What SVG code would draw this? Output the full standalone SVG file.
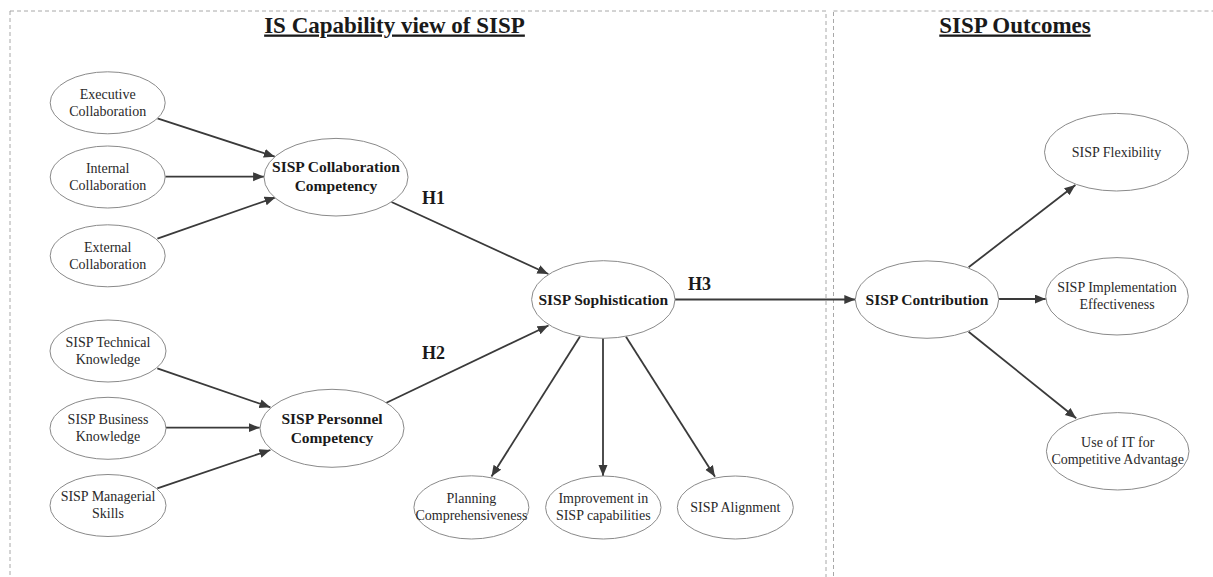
<svg xmlns="http://www.w3.org/2000/svg" width="1213" height="577" viewBox="0 0 1213 577">
<defs>
<marker id="arr" markerUnits="userSpaceOnUse" markerWidth="12" markerHeight="10" refX="11" refY="4.5" orient="auto">
<path d="M0,0 L11,4.5 L0,9 z" fill="#3a3a3a"/>
</marker>
<style>
.box{fill:none;stroke:#a8a8a8;stroke-width:1;stroke-dasharray:4 3}
.title{font-family:"Liberation Serif","Times New Roman",serif;font-size:23px;font-weight:bold;fill:#1a1a1a;text-anchor:middle;text-decoration:underline}
ellipse{fill:#fff;stroke:#8a8a8a;stroke-width:1}
.t{font-family:"Liberation Serif","Times New Roman",serif;font-size:14px;fill:#2a2a2a;text-anchor:middle}
.b{font-family:"Liberation Serif","Times New Roman",serif;font-size:15.5px;font-weight:bold;fill:#1a1a1a;text-anchor:middle}
.h{font-family:"Liberation Serif","Times New Roman",serif;font-size:18px;font-weight:bold;fill:#1a1a1a}
.c line{stroke:#3a3a3a;stroke-width:1.8;marker-end:url(#arr)}
</style>
</defs>
<rect width="1213" height="577" fill="#fff"/>
<g id="frames">
<rect class="box" x="10" y="11" width="816" height="600"/>
<rect class="box" x="833.5" y="11" width="400" height="600"/>
<text class="title" x="394.5" y="32.5">IS Capability view of SISP</text>
<text class="title" x="1015" y="32.5">SISP Outcomes</text>
</g>
<g class="c" id="connectors">
<line x1="157.4" y1="118.3" x2="274.8" y2="156.7"/>
<line x1="165.3" y1="176.7" x2="264.1" y2="176.7"/>
<line x1="157.4" y1="238.7" x2="275.6" y2="197.3"/>
<line x1="157.3" y1="368.3" x2="270.4" y2="407.3"/>
<line x1="165.2" y1="427.7" x2="259.7" y2="427.7"/>
<line x1="157.3" y1="488.3" x2="270.4" y2="450"/>
<line x1="391.5" y1="202" x2="548.3" y2="274"/>
<line x1="385.4" y1="403.3" x2="548.5" y2="325.5"/>
<line x1="580" y1="336.5" x2="491.5" y2="476.5"/>
<line x1="603" y1="338.3" x2="603" y2="476"/>
<line x1="626" y1="336.7" x2="715" y2="476.7"/>
<line x1="675" y1="299.5" x2="855.3" y2="299.5"/>
<line x1="968.6" y1="267.3" x2="1075.4" y2="185"/>
<line x1="999" y1="299" x2="1045.7" y2="299"/>
<line x1="968.6" y1="331.7" x2="1076.2" y2="418.3"/>
<text class="h" x="422" y="204">H1</text>
<text class="h" x="422" y="359">H2</text>
<text class="h" x="688" y="290">H3</text>
</g>
<g id="exec"><ellipse cx="107.7" cy="102.8" rx="57.5" ry="31"/><text class="t" x="107.7" y="98.5">Executive</text><text class="t" x="107.7" y="115.5">Collaboration</text></g>
<g id="internal"><ellipse cx="107.7" cy="177" rx="57.5" ry="31"/><text class="t" x="107.7" y="172.7">Internal</text><text class="t" x="107.7" y="189.7">Collaboration</text></g>
<g id="external"><ellipse cx="107.7" cy="255.8" rx="57.5" ry="31"/><text class="t" x="107.7" y="251.5">External</text><text class="t" x="107.7" y="268.5">Collaboration</text></g>
<g id="collab"><ellipse cx="336" cy="177.2" rx="72" ry="38.8"/><text class="b" x="336" y="172">SISP Collaboration</text><text class="b" x="336" y="190.5">Competency</text></g>
<g id="tech"><ellipse cx="108" cy="351" rx="58" ry="31"/><text class="t" x="108" y="346.7">SISP Technical</text><text class="t" x="108" y="363.7">Knowledge</text></g>
<g id="business"><ellipse cx="108" cy="428.3" rx="58" ry="31"/><text class="t" x="108" y="424">SISP Business</text><text class="t" x="108" y="441">Knowledge</text></g>
<g id="managerial"><ellipse cx="108" cy="505.5" rx="58" ry="31"/><text class="t" x="108" y="501.2">SISP Managerial</text><text class="t" x="108" y="518.2">Skills</text></g>
<g id="personnel"><ellipse cx="332" cy="428.3" rx="72" ry="39"/><text class="b" x="332" y="423.8">SISP Personnel</text><text class="b" x="332" y="442.5">Competency</text></g>
<g id="sophistication"><ellipse cx="603.3" cy="299.5" rx="71.7" ry="38.8"/><text class="b" x="603.3" y="304.5">SISP Sophistication</text></g>
<g id="planning"><ellipse cx="471.4" cy="507.4" rx="57.5" ry="31.6"/><text class="t" x="471.4" y="503">Planning</text><text class="t" x="471.4" y="520">Comprehensiveness</text></g>
<g id="improvement"><ellipse cx="603.3" cy="507.5" rx="57.7" ry="31.5"/><text class="t" x="603.3" y="503">Improvement in</text><text class="t" x="603.3" y="520">SISP capabilities</text></g>
<g id="alignment"><ellipse cx="735.3" cy="507.5" rx="58" ry="31.5"/><text class="t" x="735.3" y="512">SISP Alignment</text></g>
<g id="contribution"><ellipse cx="927" cy="299.6" rx="71.7" ry="38.7"/><text class="b" x="927" y="304.5">SISP Contribution</text></g>
<g id="flexibility"><ellipse cx="1116.5" cy="152.2" rx="72" ry="38.8"/><text class="t" x="1116.5" y="156.7">SISP Flexibility</text></g>
<g id="implementation"><ellipse cx="1117" cy="296.3" rx="71.3" ry="38.7"/><text class="t" x="1117" y="292">SISP Implementation</text><text class="t" x="1117" y="309">Effectiveness</text></g>
<g id="useit"><ellipse cx="1117.7" cy="451.3" rx="71.3" ry="38.7"/><text class="t" x="1117.7" y="447">Use of IT for</text><text class="t" x="1117.7" y="464">Competitive Advantage</text></g>
</svg>
